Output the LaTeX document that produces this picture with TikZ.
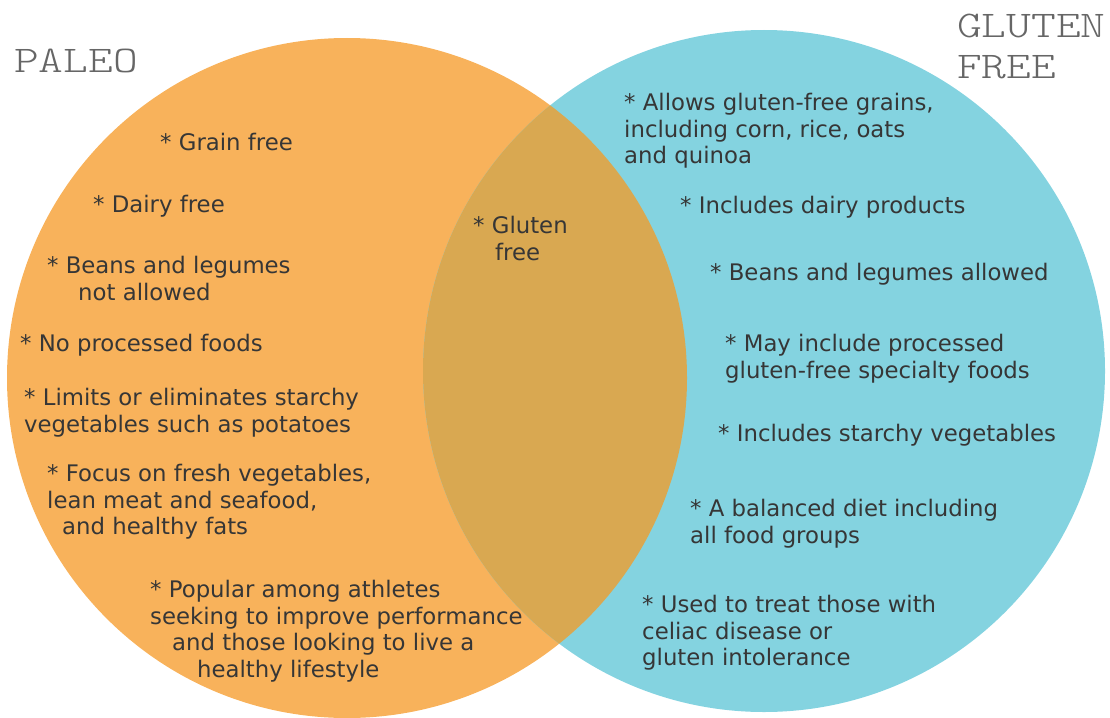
\documentclass[tikz,border=0pt]{standalone}
\usepackage{fontspec}
\setmainfont{DejaVu Sans}
\newfontfamily\titlefont[FakeStretch=1.25]{lmmonolt10-regular.otf}
\definecolor{paleo}{HTML}{F8B25B}
\definecolor{gfree}{HTML}{84D3E0}
\definecolor{both}{HTML}{D9A851}
\definecolor{txt}{HTML}{363636}
\definecolor{ttl}{HTML}{666666}
\begin{document}
\begin{tikzpicture}[x=1pt,y=-1pt,
  item/.style={anchor=north west,inner sep=0pt,align=left,text=txt,
    font=\fontsize{22.8}{26.8}\selectfont},
  titletext/.style={anchor=north west,inner sep=0pt,align=left,text=ttl,
    font=\titlefont\fontsize{37.7}{40.5}\selectfont}]
\useasboundingbox (0,0) rectangle (1110,717);
\def\tr{\rule{0pt}{19pt}}
% circles
\coordinate (cl) at (347,378);
\coordinate (cr) at (764,371);
\fill[paleo] (cl) circle[radius=340];
\fill[gfree] (cr) circle[radius=341];
\begin{scope}
  \clip (cl) circle[radius=340];
  \fill[both] (cr) circle[radius=341];
\end{scope}
% titles
\node[titletext] (tpaleo) at (14,47.5) {\rule{0pt}{25pt}PALEO};
\node[titletext] (tgf) at (957,12.5) {\rule{0pt}{25pt}GLUTEN\\FREE};
% paleo items
\node[item] (p1) at (160,131) {\tr* Grain free};
\node[item] (p2) at (93,193) {\tr* Dairy free};
\node[item] (p3) at (47,254) {\tr* Beans and legumes\\\hspace*{31pt}not allowed};
\node[item] (p4) at (20,332) {\tr* No processed foods};
\node[item] (p5) at (24,386) {\tr* Limits or eliminates starchy\\vegetables such as potatoes};
\node[item] (p6) at (47,462) {\tr* Focus on fresh vegetables,\\lean meat and seafood,\\\hspace*{15pt}and healthy fats};
\node[item] (p7) at (150,578) {\tr* Popular among athletes\\seeking to improve performance\\\hspace*{22pt}and those looking to live a\\\hspace*{47pt}healthy lifestyle};
% overlap
\node[item] (b1) at (473,214) {\tr* Gluten\\\hspace*{22pt}free};
% gluten free items
\node[item] (g1) at (624,91) {\tr* Allows gluten-free grains,\\including corn, rice, oats\\and quinoa};
\node[item] (g2) at (680,194) {\tr* Includes dairy products};
\node[item] (g3) at (710,261) {\tr* Beans and legumes allowed};
\node[item] (g4) at (725,332) {\tr* May include processed\\gluten-free specialty foods};
\node[item] (g5) at (718,422) {\tr* Includes starchy vegetables};
\node[item] (g6) at (690,497) {\tr* A balanced diet including\\all food groups};
\node[item] (g7) at (642,593) {\tr* Used to treat those with\\celiac disease or\\gluten intolerance};
\end{tikzpicture}
\end{document}
